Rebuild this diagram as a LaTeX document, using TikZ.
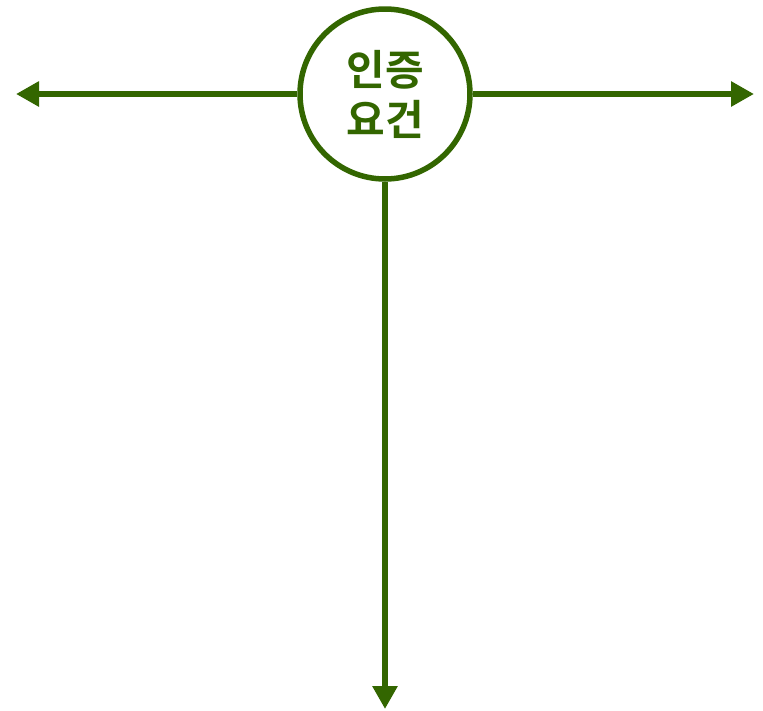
\documentclass[tikz,border=0pt]{standalone}
\usepackage{fontspec}
\newfontfamily\krfont{Noto Sans CJK KR}[BoldFont={* Bold}]
\usetikzlibrary{arrows.meta}
\definecolor{dgreen}{HTML}{336600}
\tikzset{
  conn/.style={draw=dgreen, line width=6pt, -{Triangle[length=23pt,width=24pt]}},
  hub/.style={circle, draw=dgreen, line width=5.5pt, fill=white, minimum size=170pt, inner sep=0pt,
    font=\krfont\bfseries\fontsize{42}{50}\selectfont, text=dgreen, align=center}
}
\begin{document}
\begin{tikzpicture}[x=1pt,y=-1pt]
\useasboundingbox (0,0) rectangle (763,710);
\node[hub] (c) at (385,94) {인증\\요건};
\coordinate (l) at (16,94);
\coordinate (r) at (754,94);
\coordinate (d) at (385,709);
\draw[conn] (c.west) -- (l);
\draw[conn] (c.east) -- (r);
\draw[conn] (c.south) -- (d);
\end{tikzpicture}
\end{document}
